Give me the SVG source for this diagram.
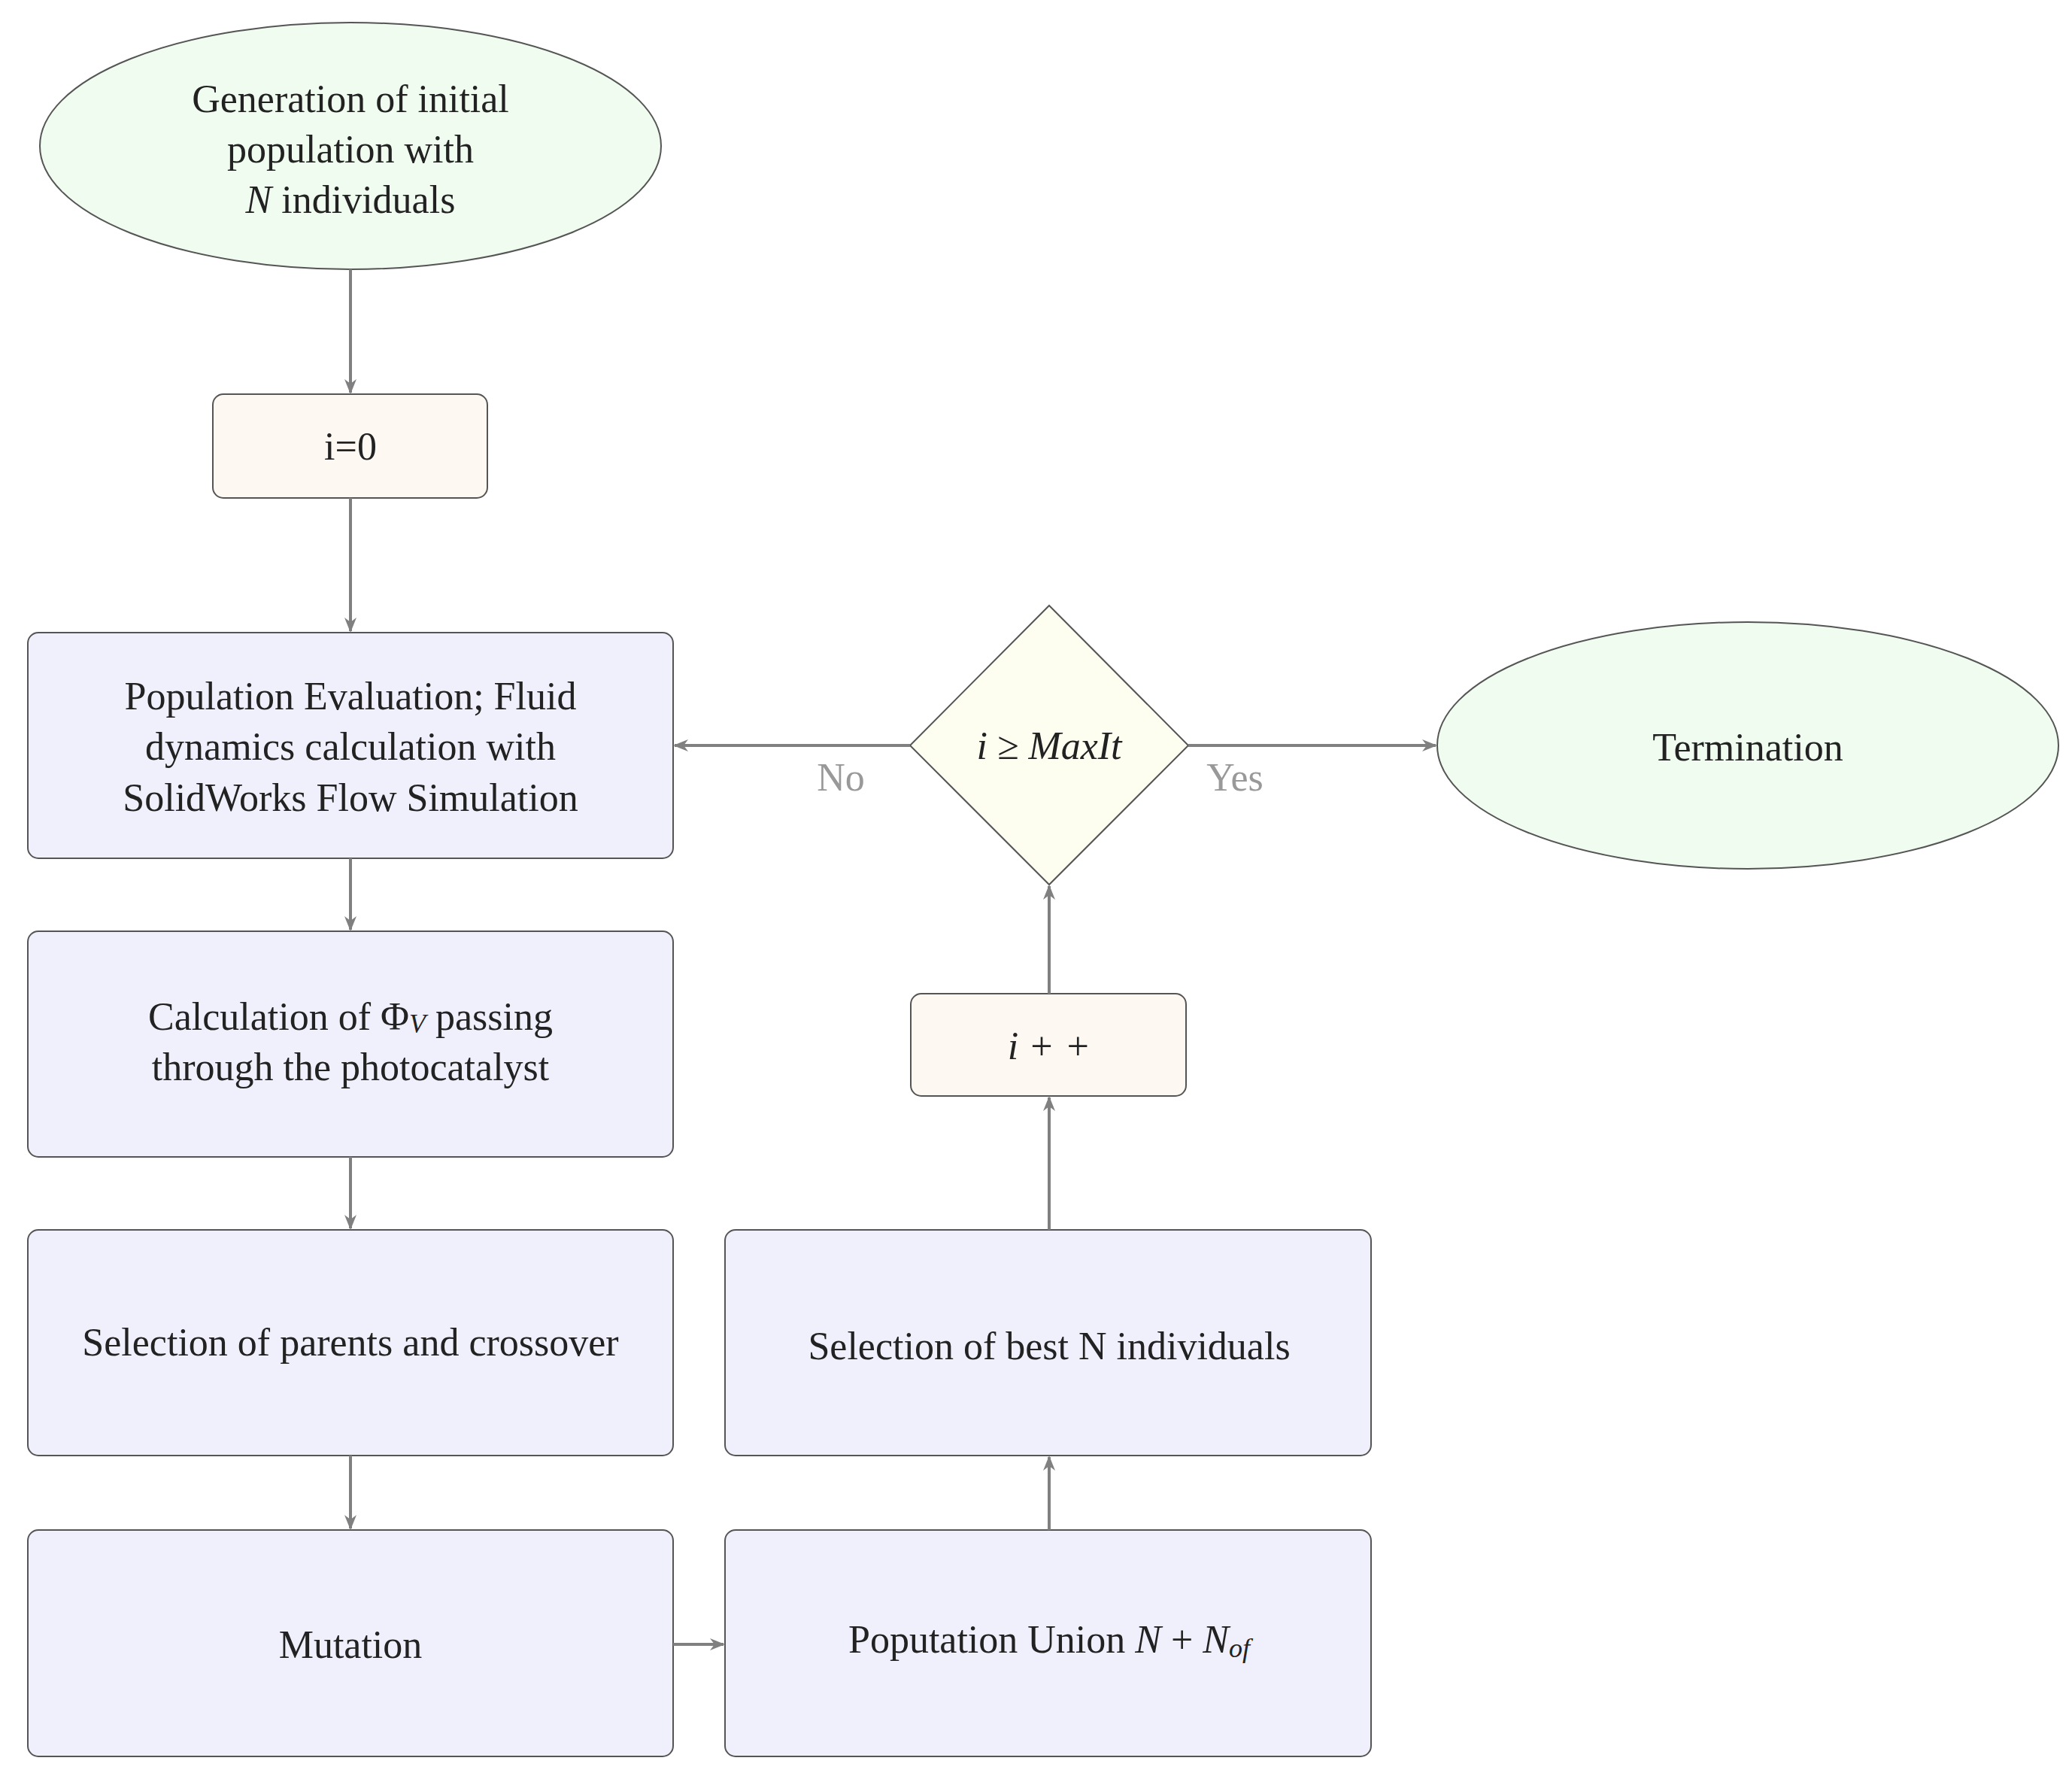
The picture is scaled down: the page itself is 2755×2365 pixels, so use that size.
<svg xmlns="http://www.w3.org/2000/svg" width="2755" height="2365" viewBox="0 0 2755 2365">
<style>
text{font-family:"Liberation Serif","DejaVu Serif",serif;font-size:52px;fill:#222;text-anchor:middle;dominant-baseline:central}
.lbl{fill:#999}
.n{stroke:#555;stroke-width:2}
.c{stroke:#808080;stroke-width:4;fill:none;marker-end:url(#a)}
</style>
<defs><marker id="a" viewBox="0 0 10 10" refX="9" refY="5" markerWidth="5" markerHeight="5" orient="auto"><path d="M0,1 L10,5 L0,9 L3,5 Z" fill="#808080"/></marker></defs>
<rect width="2755" height="2365" fill="#fff"/>
<g id="start"><ellipse class="n" cx="466" cy="194" rx="413" ry="164" fill="#f0fcf0"/><text x="466" y="131">Generation of initial</text><text x="466" y="198">population with</text><text x="466" y="265"><tspan font-style="italic">N</tspan> individuals</text></g>
<g id="init"><rect class="n" x="283" y="524" width="365" height="138" rx="14" fill="#fdf8f2"/><text x="466" y="593">i=0</text></g>
<g id="eval"><rect class="n" x="37" y="841" width="858" height="300" rx="14" fill="#f0f0fc"/><text x="466" y="925">Population Evaluation; Fluid</text><text x="466" y="992">dynamics calculation with</text><text x="466" y="1060">SolidWorks Flow Simulation</text></g>
<g id="calc"><rect class="n" x="37" y="1238" width="858" height="300" rx="14" fill="#f0f0fc"/><text x="466" y="1351">Calculation of Φ<tspan font-style="italic" font-size="36" dy="10">V</tspan><tspan dy="-10"> passing</tspan></text><text x="466" y="1418">through the photocatalyst</text></g>
<g id="sel"><rect class="n" x="37" y="1635" width="858" height="300" rx="14" fill="#f0f0fc"/><text x="466" y="1784">Selection of parents and crossover</text></g>
<g id="mut"><rect class="n" x="37" y="2034" width="858" height="301" rx="14" fill="#f0f0fc"/><text x="466" y="2186">Mutation</text></g>
<g id="union"><rect class="n" x="964" y="2034" width="859" height="301" rx="14" fill="#f0f0fc"/><text x="1395" y="2179">Poputation Union <tspan font-style="italic">N</tspan> + <tspan font-style="italic">N</tspan><tspan font-style="italic" font-size="36" dy="12">of</tspan></text></g>
<g id="best"><rect class="n" x="964" y="1635" width="859" height="300" rx="14" fill="#f0f0fc"/><text x="1395" y="1789">Selection of best N individuals</text></g>
<g id="inc"><rect class="n" x="1211" y="1321" width="366" height="136" rx="14" fill="#fdf8f2"/><text x="1395" y="1390" font-style="italic">i + +</text></g>
<g id="dec"><polygon class="n" points="1395,805 1580,991 1395,1176 1210,991" fill="#fdfdf0"/><text x="1395" y="991" font-style="italic">i ≥ MaxIt</text></g>
<g id="term"><ellipse class="n" cx="2324" cy="991" rx="413" ry="164" fill="#f0fcf0"/><text x="2324" y="993">Termination</text></g>
<g id="connectors">
<line class="c" x1="466" y1="358" x2="466" y2="522"/>
<line class="c" x1="466" y1="662" x2="466" y2="839"/>
<line class="c" x1="466" y1="1141" x2="466" y2="1236"/>
<line class="c" x1="466" y1="1538" x2="466" y2="1633"/>
<line class="c" x1="466" y1="1935" x2="466" y2="2032"/>
<line class="c" x1="895" y1="2186" x2="962" y2="2186"/>
<line class="c" x1="1395" y1="2034" x2="1395" y2="1937"/>
<line class="c" x1="1395" y1="1635" x2="1395" y2="1459"/>
<line class="c" x1="1395" y1="1321" x2="1395" y2="1178"/>
<line class="c" x1="1210" y1="991" x2="897" y2="991"/>
<line class="c" x1="1580" y1="991" x2="1909" y2="991"/>
<text class="lbl" x="1118" y="1033">No</text>
<text class="lbl" x="1642" y="1033">Yes</text>
</g>
</svg>
